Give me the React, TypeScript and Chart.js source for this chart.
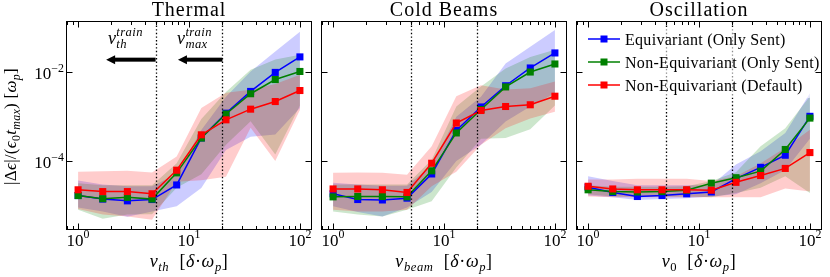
import React, { useEffect, useRef } from 'react';
import { Chart, registerables } from 'chart.js';
Chart.register(...registerables);

// ---------- data ----------
const X_VALUES = [1, 1.668, 2.783, 4.642, 7.743, 12.915, 21.544, 35.938, 59.948, 100];

// Thermal
const TH_EQ_MEAN = [1.66e-5, 1.38e-5, 1.26e-5, 1.35e-5, 2.88e-5, 3.31e-4, 1.2e-3, 3.72e-3, 1.0e-2, 2.24e-2];
const TH_EQ_HI = [3.63e-5, 2.95e-5, 2.69e-5, 2.69e-5, 5.0e-5, 5.0e-4, 2.82e-3, 1.05e-2, 2.95e-2, 8.3e-2];
const TH_EQ_LO = [8.9e-6, 7.2e-6, 5.5e-6, 7.2e-6, 9.5e-6, 2.45e-5, 1.78e-4, 3.55e-4, 3.98e-4, 1.58e-3];
const TH_NE_MEAN = [1.66e-5, 1.41e-5, 1.51e-5, 1.38e-5, 5.4e-5, 3.3e-4, 1.15e-3, 3.3e-3, 6.9e-3, 1.05e-2];
const TH_NE_HI = [3.16e-5, 2.82e-5, 2.82e-5, 2.82e-5, 8.9e-5, 8.9e-4, 3.63e-3, 1.15e-2, 1.95e-2, 2.51e-2];
const TH_NE_LO = [7.9e-6, 5.0e-6, 6.2e-6, 6.3e-6, 2.5e-5, 5.0e-5, 2.34e-4, 7.9e-4, 1.41e-4, 1.78e-3];
const TH_DF_MEAN = [2.24e-5, 2.04e-5, 2.04e-5, 1.82e-5, 6.2e-5, 3.9e-4, 8.5e-4, 1.48e-3, 2.2e-3, 3.9e-3];
const TH_DF_HI = [5.75e-5, 5.9e-5, 6.0e-5, 5.5e-5, 1.26e-4, 1.58e-3, 3.47e-3, 4.07e-3, 5.5e-3, 8.9e-3];
const TH_DF_LO = [8.3e-6, 6.2e-6, 5.6e-6, 4.7e-6, 3.4e-5, 3.7e-5, 4.4e-5, 5.6e-4, 1.0e-4, 1.41e-3];

// Cold beams
const CB_EQ_MEAN = [1.82e-5, 1.35e-5, 1.32e-5, 1.45e-5, 5.1e-5, 4.9e-4, 1.66e-3, 5.0e-3, 1.26e-2, 2.75e-2];
const CB_EQ_HI = [3.24e-5, 2.95e-5, 2.75e-5, 2.75e-5, 7.9e-5, 1.0e-3, 2.82e-3, 1.58e-2, 3.8e-2, 9.1e-2];
const CB_EQ_LO = [9.5e-6, 7.1e-6, 5.6e-6, 8.9e-6, 2.0e-5, 1.0e-4, 2.34e-4, 7.8e-4, 1.7e-3, 3.4e-3];
const CB_NE_MEAN = [1.55e-5, 1.58e-5, 1.58e-5, 1.55e-5, 6.0e-5, 4.3e-4, 1.45e-3, 4.7e-3, 1.02e-2, 1.55e-2];
const CB_NE_HI = [2.95e-5, 2.95e-5, 2.95e-5, 2.95e-5, 1.07e-4, 1.7e-3, 4.8e-3, 1.23e-2, 2.24e-2, 3.24e-2];
const CB_NE_LO = [7.2e-6, 6.2e-6, 5.6e-6, 7.9e-6, 1.23e-5, 7.1e-5, 3.16e-4, 3.3e-4, 5.2e-4, 1.78e-3];
const CB_DF_MEAN = [2.34e-5, 2.34e-5, 2.24e-5, 1.95e-5, 8.9e-5, 7.2e-4, 1.38e-3, 1.7e-3, 1.86e-3, 2.9e-3];
const CB_DF_HI = [5.4e-5, 5.5e-5, 5.4e-5, 4.9e-5, 2.14e-4, 2.9e-3, 5.1e-3, 4.1e-3, 4.4e-3, 6.2e-3];
const CB_DF_LO = [7.9e-6, 7.2e-6, 7.2e-6, 7.9e-6, 2.7e-5, 5.75e-5, 2.34e-4, 5.5e-4, 9.1e-4, 1.29e-3];

// Oscillation
const OS_EQ_MEAN = [2.57e-5, 1.95e-5, 1.58e-5, 1.66e-5, 1.82e-5, 2.0e-5, 4.0e-5, 7.2e-5, 1.35e-4, 1.02e-3];
const OS_EQ_HI = [4.5e-5, 3.55e-5, 2.82e-5, 2.82e-5, 2.82e-5, 2.82e-5, 8.3e-5, 1.66e-4, 4.3e-4, 3.4e-3];
const OS_EQ_LO = [1.66e-5, 1.51e-5, 1.32e-5, 1.38e-5, 1.45e-5, 1.58e-5, 1.78e-5, 3.16e-5, 6.3e-5, 3.16e-4];
const OS_NE_MEAN = [2.24e-5, 2.04e-5, 2.0e-5, 2.04e-5, 2.19e-5, 3.16e-5, 4.2e-5, 5.9e-5, 1.82e-4, 9.3e-4];
const OS_NE_HI = [2.82e-5, 2.63e-5, 2.63e-5, 2.63e-5, 2.69e-5, 3.55e-5, 5.6e-5, 2.14e-4, 5.5e-4, 2.9e-3];
const OS_NE_LO = [1.78e-5, 1.58e-5, 1.58e-5, 1.58e-5, 1.58e-5, 1.51e-5, 1.9e-5, 2.5e-5, 4.5e-5, 1.9e-5];
const OS_DF_MEAN = [2.69e-5, 2.34e-5, 2.24e-5, 2.24e-5, 2.24e-5, 2.19e-5, 3.3e-5, 4.7e-5, 6.8e-5, 1.55e-4];
const OS_DF_HI = [3.8e-5, 3.8e-5, 4.0e-5, 4.0e-5, 4.0e-5, 3.55e-5, 4.5e-5, 8.9e-5, 2.0e-4, 5.1e-4];
const OS_DF_LO = [1.58e-5, 1.51e-5, 1.51e-5, 1.51e-5, 1.51e-5, 1.51e-5, 1.51e-5, 1.51e-5, 2.4e-5, 2.04e-5];

const SERIES_NAMES = ['Equivariant (Only Sent)', 'Non-Equivariant (Only Sent)', 'Non-Equivariant (Default)'];
const SERIES_COLORS = ['#0000ff', '#008000', '#ff0000'];
const BAND_COLORS = ['rgba(0,0,255,0.2)', 'rgba(0,128,0,0.2)', 'rgba(255,0,0,0.2)'];

const PANEL_TITLES = ['Thermal', 'Cold Beams', 'Oscillation'];
const PANEL_XSUB = ['th', 'beam', '0'];
const TRAIN_LIMITS = [5, 20];
const ARROW_TIPS = [1.79, 7.95];
const ARROW_Y = 0.0194;
const ARROW_LABEL_X = [1.86, 7.8];
const ARROW_LABEL_Y = 0.0445;
const ARROW_LABEL_SUB = ['th', 'max'];

const X_MIN = Math.pow(10, -0.1);
const X_MAX = Math.pow(10, 2.1);
const Y_MIN = Math.pow(10, -5.535);
const Y_MAX = Math.pow(10, -0.862);
const X_MAJOR = [1, 10, 100];
const Y_MAJOR = [1e-4, 1e-2];
const Y_MAJOR_EXP = ['−4', '−2'];
const X_MAJOR_EXP = ['0', '1', '2'];

const PANEL_AREAS = [
  { left: 67, right: 311 },
  { left: 322, right: 566 },
  { left: 577, right: 821 },
];
const AREA_TOP = 22;
const AREA_BOTTOM = 229;
const W = 830;
const H = 277;

// ---------- text helpers ----------
const FAM = '"Liberation Serif", "DejaVu Serif", serif';
type Seg = { t?: string; it?: boolean; sub?: boolean; sup?: boolean; up?: string; dn?: string; upIt?: boolean; dnIt?: boolean };
const fnt = (size: number, it?: boolean) => `${it ? 'italic ' : ''}${size}px ${FAM}`;

function segWidth(ctx: CanvasRenderingContext2D, s: Seg, size: number) {
  const small = size * 0.7;
  if (s.up !== undefined || s.dn !== undefined) {
    ctx.font = fnt(small, s.upIt);
    const w1 = s.up ? ctx.measureText(s.up).width : 0;
    ctx.font = fnt(small, s.dnIt);
    const w2 = s.dn ? ctx.measureText(s.dn).width : 0;
    return Math.max(w1, w2);
  }
  ctx.font = fnt(s.sub || s.sup ? small : size, s.it);
  return ctx.measureText(s.t || '').width;
}

function drawRich(
  ctx: CanvasRenderingContext2D,
  segs: Seg[],
  x: number,
  y: number,
  size: number,
  align: 'left' | 'center' | 'right',
  spacing = 0
) {
  const c: any = ctx;
  const prevLS = c.letterSpacing;
  c.letterSpacing = spacing + 'px';
  const widths = segs.map((s) => segWidth(ctx, s, size));
  const total = widths.reduce((a, b) => a + b, 0);
  let cx = align === 'center' ? x - total / 2 : align === 'right' ? x - total : x;
  ctx.textAlign = 'left';
  ctx.textBaseline = 'alphabetic';
  const small = size * 0.7;
  segs.forEach((s, i) => {
    if (s.up !== undefined || s.dn !== undefined) {
      if (s.up) {
        ctx.font = fnt(small, s.upIt);
        ctx.fillText(s.up, cx, y - size * 0.45);
      }
      if (s.dn) {
        ctx.font = fnt(small, s.dnIt);
        ctx.fillText(s.dn, cx, y + size * 0.25);
      }
    } else if (s.sub) {
      ctx.font = fnt(small, s.it);
      ctx.fillText(s.t || '', cx, y + size * 0.22);
    } else if (s.sup) {
      ctx.font = fnt(small, s.it);
      ctx.fillText(s.t || '', cx, y - size * 0.42);
    } else {
      ctx.font = fnt(size, s.it);
      ctx.fillText(s.t || '', cx, y);
    }
    cx += widths[i];
  });
  c.letterSpacing = prevLS || '0px';
  return total;
}

// ---------- panel plugin ----------
function makePlugin(panel: number) {
  return {
    id: 'panelDecor' + panel,
    afterDatasetsDraw(chart: any) {
      const ctx: CanvasRenderingContext2D = chart.ctx;
      const xs = chart.scales.x;
      const ys = chart.scales.y;
      const { top, bottom } = chart.chartArea;
      ctx.save();
      ctx.strokeStyle = '#000';
      ctx.lineWidth = 1.3;
      ctx.setLineDash([1.4, 2.2]);
      TRAIN_LIMITS.forEach((v) => {
        const px = Math.round(xs.getPixelForValue(v)) + 0.5;
        ctx.beginPath();
        ctx.moveTo(px, top);
        ctx.lineTo(px, bottom);
        ctx.stroke();
      });
      ctx.setLineDash([]);
      if (panel === 0) {
        const ay = ys.getPixelForValue(ARROW_Y);
        ctx.fillStyle = '#000';
        TRAIN_LIMITS.forEach((v, i) => {
          const x0 = xs.getPixelForValue(v);
          const tip = xs.getPixelForValue(ARROW_TIPS[i]);
          ctx.fillRect(tip + 7, ay - 2, x0 - tip - 7, 4);
          ctx.beginPath();
          ctx.moveTo(tip, ay);
          ctx.lineTo(tip + 9, ay - 4.5);
          ctx.lineTo(tip + 9, ay + 4.5);
          ctx.closePath();
          ctx.fill();
          const lx = xs.getPixelForValue(ARROW_LABEL_X[i]);
          const ly = ys.getPixelForValue(ARROW_LABEL_Y);
          drawRich(ctx, [{ t: 'v', it: true }, { up: 'train', upIt: true, dn: ARROW_LABEL_SUB[i], dnIt: true }], lx, ly, 18, 'left', 0.4);
        });
      }
      ctx.restore();
    },
    afterDraw(chart: any) {
      const ctx: CanvasRenderingContext2D = chart.ctx;
      const xs = chart.scales.x;
      const ys = chart.scales.y;
      const { left, right, top, bottom } = chart.chartArea;
      ctx.save();
      if (panel === 2) {
        ctx.fillStyle = 'rgba(255,255,255,0.55)';
        ctx.beginPath();
        (ctx as any).roundRect(left + 4, top + 6, 237, 70, 3);
        ctx.fill();
        SERIES_NAMES.forEach((name, i) => {
          const y = top + 17 + i * 23;
          ctx.strokeStyle = SERIES_COLORS[i];
          ctx.lineWidth = 1.5;
          ctx.beginPath();
          ctx.moveTo(left + 11, y);
          ctx.lineTo(left + 43, y);
          ctx.stroke();
          ctx.fillStyle = SERIES_COLORS[i];
          ctx.fillRect(left + 27 - 3.5, y - 3.5, 7, 7);
          ctx.fillStyle = '#000';
          drawRich(ctx, [{ t: name }], left + 48, y + 5.5, 16, 'left', 0.3);
        });
      }
      ctx.strokeStyle = '#000';
      ctx.lineWidth = 1;
      const L = Math.round(left) - 0.5;
      const R = Math.round(right) + 0.5;
      const T = Math.round(top) - 0.5;
      const B = Math.round(bottom) + 0.5;
      ctx.strokeRect(L, T, R - L, B - T);
      ctx.beginPath();
      for (let e = -1; e <= 2; e++) {
        for (let m = 1; m <= 9; m++) {
          const v = m * Math.pow(10, e);
          if (v < X_MIN || v > X_MAX) continue;
          const len = m === 1 ? 6 : 3.5;
          const px = Math.round(xs.getPixelForValue(v)) + 0.5;
          ctx.moveTo(px, B);
          ctx.lineTo(px, B - len);
          ctx.moveTo(px, T);
          ctx.lineTo(px, T + len);
        }
      }
      Y_MAJOR.forEach((v) => {
        const py = Math.round(ys.getPixelForValue(v)) + 0.5;
        ctx.moveTo(L, py);
        ctx.lineTo(L + 6, py);
        ctx.moveTo(R, py);
        ctx.lineTo(R - 6, py);
      });
      ctx.stroke();
      ctx.fillStyle = '#000';
      X_MAJOR.forEach((v, i) => {
        const px = xs.getPixelForValue(v);
        drawRich(ctx, [{ t: '10' }, { t: X_MAJOR_EXP[i], sup: true }], px, 245.5, 17, 'center');
      });
      if (panel === 0) {
        Y_MAJOR.forEach((v, i) => {
          const py = ys.getPixelForValue(v);
          drawRich(ctx, [{ t: '10' }, { t: Y_MAJOR_EXP[i], sup: true }], left - 3, py + 7, 17, 'right');
        });
        ctx.save();
        ctx.translate(11, (top + bottom) / 2 + 1);
        ctx.rotate(-Math.PI / 2);
        drawRich(
          ctx,
          [
            { t: '|Δ' },
            { t: 'ϵ', it: true },
            { t: '|/(' },
            { t: 'ϵ', it: true },
            { t: '0', sub: true },
            { t: 't', it: true },
            { t: 'max', it: true, sub: true },
            { t: ') [' },
            { t: 'ω', it: true },
            { t: 'p', it: true, sub: true },
            { t: ']' },
          ],
          0,
          5,
          17,
          'center',
          0.3
        );
        ctx.restore();
      }
      const xsub = PANEL_XSUB[panel];
      drawRich(
        ctx,
        [
          { t: 'v', it: true },
          { t: xsub, it: xsub !== '0', sub: true },
          { t: '  [' },
          { t: 'δ', it: true },
          { t: '·' },
          { t: 'ω', it: true },
          { t: 'p', it: true, sub: true },
          { t: ']' },
        ],
        (left + right) / 2,
        267,
        18,
        'center',
        0.6
      );
      drawRich(ctx, [{ t: PANEL_TITLES[panel] }], (left + right) / 2, 16, 20, 'center', 1);
      ctx.restore();
    },
  };
}

const PANEL_DATA = [
  [
    [TH_EQ_MEAN, TH_EQ_LO, TH_EQ_HI],
    [TH_NE_MEAN, TH_NE_LO, TH_NE_HI],
    [TH_DF_MEAN, TH_DF_LO, TH_DF_HI],
  ],
  [
    [CB_EQ_MEAN, CB_EQ_LO, CB_EQ_HI],
    [CB_NE_MEAN, CB_NE_LO, CB_NE_HI],
    [CB_DF_MEAN, CB_DF_LO, CB_DF_HI],
  ],
  [
    [OS_EQ_MEAN, OS_EQ_LO, OS_EQ_HI],
    [OS_NE_MEAN, OS_NE_LO, OS_NE_HI],
    [OS_DF_MEAN, OS_DF_LO, OS_DF_HI],
  ],
];

const pts = (arr: number[]) => arr.map((y, i) => ({ x: X_VALUES[i], y }));

function buildDatasets(panel: number) {
  const ds: any[] = [];
  PANEL_DATA[panel].forEach(([mean, lo, hi], s) => {
    const loIdx = ds.length;
    ds.push({ data: pts(lo), borderWidth: 0, pointRadius: 0, fill: false, order: 30 - s * 5 });
    ds.push({
      data: pts(hi),
      borderWidth: 0,
      pointRadius: 0,
      fill: loIdx,
      backgroundColor: BAND_COLORS[s],
      order: 30 - s * 5,
    });
    ds.push({
      data: pts(mean),
      borderColor: SERIES_COLORS[s],
      backgroundColor: SERIES_COLORS[s],
      borderWidth: 1.5,
      pointStyle: 'rect',
      pointRadius: 5,
      pointBorderWidth: 0,
      pointBackgroundColor: SERIES_COLORS[s],
      fill: false,
      order: 3 - s,
    });
  });
  return ds;
}

function Panel({ index }: { index: number }) {
  const ref = useRef<HTMLCanvasElement>(null);
  useEffect(() => {
    const area = PANEL_AREAS[index];
    const chart = new Chart(ref.current as HTMLCanvasElement, {
      type: 'line',
      data: { datasets: buildDatasets(index) },
      options: {
        animation: false,
        responsive: false,
        devicePixelRatio: 1,
        events: [],
        layout: {
          padding: { left: area.left, right: W - area.right, top: AREA_TOP, bottom: H - AREA_BOTTOM },
        },
        plugins: {
          legend: { display: false },
          tooltip: { enabled: false },
          title: { display: false },
        },
        elements: { line: { tension: 0 } },
        scales: {
          x: { type: 'logarithmic', min: X_MIN, max: X_MAX, display: false },
          y: { type: 'logarithmic', min: Y_MIN, max: Y_MAX, display: false },
        },
      } as any,
      plugins: [makePlugin(index)],
    });
    return () => chart.destroy();
  }, [index]);
  return <canvas ref={ref} width={W} height={H} style={{ position: 'absolute', left: 0, top: 0, width: W, height: H }} />;
}

export default function App() {
  return (
    <div style={{ position: 'fixed', left: 0, top: 0, width: W, height: H, background: '#fff' }}>
      <Panel index={0} />
      <Panel index={1} />
      <Panel index={2} />
    </div>
  );
}
